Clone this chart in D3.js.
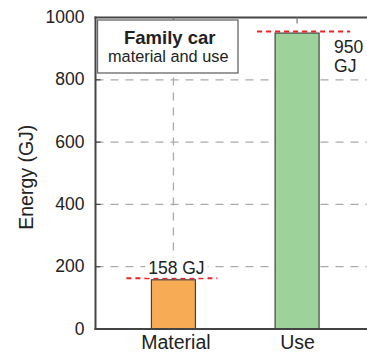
<!DOCTYPE html>
<html>
<head>
<meta charset="utf-8">
<script src="https://cdn.jsdelivr.net/npm/d3@7"></script>
<style>
  html, body { margin: 0; padding: 0; background: #fff; }
  svg { display: block; }
  text { font-family: "Liberation Sans", Arial, sans-serif; fill: #222; }
</style>
</head>
<body>
<svg id="chart" width="367" height="353"></svg>
<script>
// Energy of a family car over its life: material vs. use
const categories = ["Material", "Use"];
const values = [158, 950];
const valueLabels = [["158 GJ"], ["950", "GJ"]];
const barColors = ["#f8ab55", "#9dd29b"];
const yTicks = [0, 200, 400, 600, 800, 1000];
const gridTicks = [200, 400, 600, 800];
const yTitle = "Energy (GJ)";
const boxTitle = "Family car";
const boxSubtitle = "material and use";

const svg = d3.select("#chart");
const margin = { left: 95.5, top: 17.5, bottom: 24, right: -8 };
const W = 367, H = 353;
const x0 = margin.left, x1 = W - margin.right;
const yTop = margin.top, yBot = 329;

const x = d3.scalePoint().domain(categories).range([x0, x1]).padding(0.63);
const y = d3.scaleLinear().domain([0, 1000]).range([yBot, yTop]);
const barW = 44;

// grid
const grid = svg.append("g");
grid.selectAll("line.h").data(gridTicks).join("line")
  .attr("x1", x0).attr("x2", x1)
  .attr("y1", d => y(d)).attr("y2", d => y(d))
  .attr("stroke", "#aaa").attr("stroke-width", 1.3).attr("stroke-dasharray", "8,7");
grid.append("line")
  .attr("x1", x(categories[0])).attr("x2", x(categories[0]))
  .attr("y1", yTop).attr("y2", yBot)
  .attr("stroke", "#aaa").attr("stroke-width", 1.3).attr("stroke-dasharray", "8,7");

// bars
svg.selectAll("rect.bar").data(values).join("rect")
  .attr("class", "bar")
  .attr("x", (d, i) => x(categories[i]) - barW / 2)
  .attr("width", barW)
  .attr("y", d => y(d))
  .attr("height", d => yBot - y(d))
  .attr("fill", (d, i) => barColors[i])
  .attr("stroke", "#444").attr("stroke-width", 1.2);

// red dashed marker lines at each bar top
const markerExt = [[25, 22], [18, 31]];
svg.selectAll("line.mark").data(values).join("line")
  .attr("x1", (d, i) => x(categories[i]) - barW / 2 - markerExt[i][0])
  .attr("x2", (d, i) => x(categories[i]) + barW / 2 + markerExt[i][1])
  .attr("y1", d => y(d) - 1.5).attr("y2", d => y(d) - 1.5)
  .attr("stroke", "#ee2222").attr("stroke-width", 2).attr("stroke-dasharray", "5,4");

// value labels
const lab0 = svg.append("g");
const t0 = lab0.append("text")
  .attr("x", x(categories[0]) + 3).attr("y", y(values[0]) - 6)
  .attr("text-anchor", "middle").attr("font-size", 17.5)
  .text(valueLabels[0][0]);
const bb = t0.node().getBBox();
lab0.insert("rect", "text")
  .attr("x", bb.x - 3).attr("y", bb.y).attr("width", bb.width + 6).attr("height", bb.height)
  .attr("fill", "#fff");

const t1 = svg.append("text")
  .attr("y", y(values[1]) + 20)
  .attr("font-size", 17.5);
t1.selectAll("tspan").data(valueLabels[1]).join("tspan")
  .attr("x", x(categories[1]) + barW / 2 + 15)
  .attr("dy", (d, i) => i === 0 ? 0 : 18.5)
  .text(d => d);

// axes frame
svg.append("line").attr("x1", x0).attr("x2", x0).attr("y1", yTop - 1).attr("y2", yBot + 1)
  .attr("stroke", "#444").attr("stroke-width", 2);
svg.append("line").attr("x1", x0 - 1).attr("x2", x1).attr("y1", yBot).attr("y2", yBot)
  .attr("stroke", "#444").attr("stroke-width", 2);
svg.append("line").attr("x1", x0 - 1).attr("x2", x1).attr("y1", yTop).attr("y2", yTop)
  .attr("stroke", "#444").attr("stroke-width", 2);

// inward ticks on left and top
svg.selectAll("line.yt").data(yTicks.slice(1, -1)).join("line")
  .attr("x1", x0).attr("x2", x0 + 5)
  .attr("y1", d => y(d)).attr("y2", d => y(d))
  .attr("stroke", "#444").attr("stroke-width", 1.2);
svg.selectAll("line.xt").data(categories).join("line")
  .attr("x1", d => x(d)).attr("x2", d => x(d))
  .attr("y1", yTop).attr("y2", yTop + 6)
  .attr("stroke", "#777").attr("stroke-width", 1.2);

// y tick labels
svg.selectAll("text.ytl").data(yTicks).join("text")
  .attr("x", x0 - 11).attr("y", d => y(d) + 5.5)
  .attr("text-anchor", "end").attr("font-size", 17.5)
  .text(d => d);

// category labels
svg.selectAll("text.xtl").data(categories).join("text")
  .attr("x", (d, i) => x(d) + (i === 0 ? 2.5 : 0.5)).attr("y", yBot + 20)
  .attr("text-anchor", "middle").attr("font-size", 19.5)
  .text(d => d);

// y axis title
svg.append("text")
  .attr("transform", `translate(33,${(yTop + yBot) / 2 + 4}) rotate(-90)`)
  .attr("text-anchor", "middle").attr("font-size", 19.5)
  .text(yTitle);

// title box
const bx = x0 + 2, by = 20, bw = 140.5, bh = 53;
svg.append("rect").attr("x", bx).attr("y", by).attr("width", bw).attr("height", bh)
  .attr("fill", "#fff").attr("stroke", "#666").attr("stroke-width", 1.3);
svg.append("text").attr("x", bx + bw / 2 + 2).attr("y", by + 23.5)
  .attr("text-anchor", "middle").attr("font-size", 18.5).attr("font-weight", "bold")
  .text(boxTitle);
svg.append("text").attr("x", bx + bw / 2 + 0.5).attr("y", by + 42)
  .attr("text-anchor", "middle").attr("font-size", 16.3)
  .text(boxSubtitle);
</script>
</body>
</html>
